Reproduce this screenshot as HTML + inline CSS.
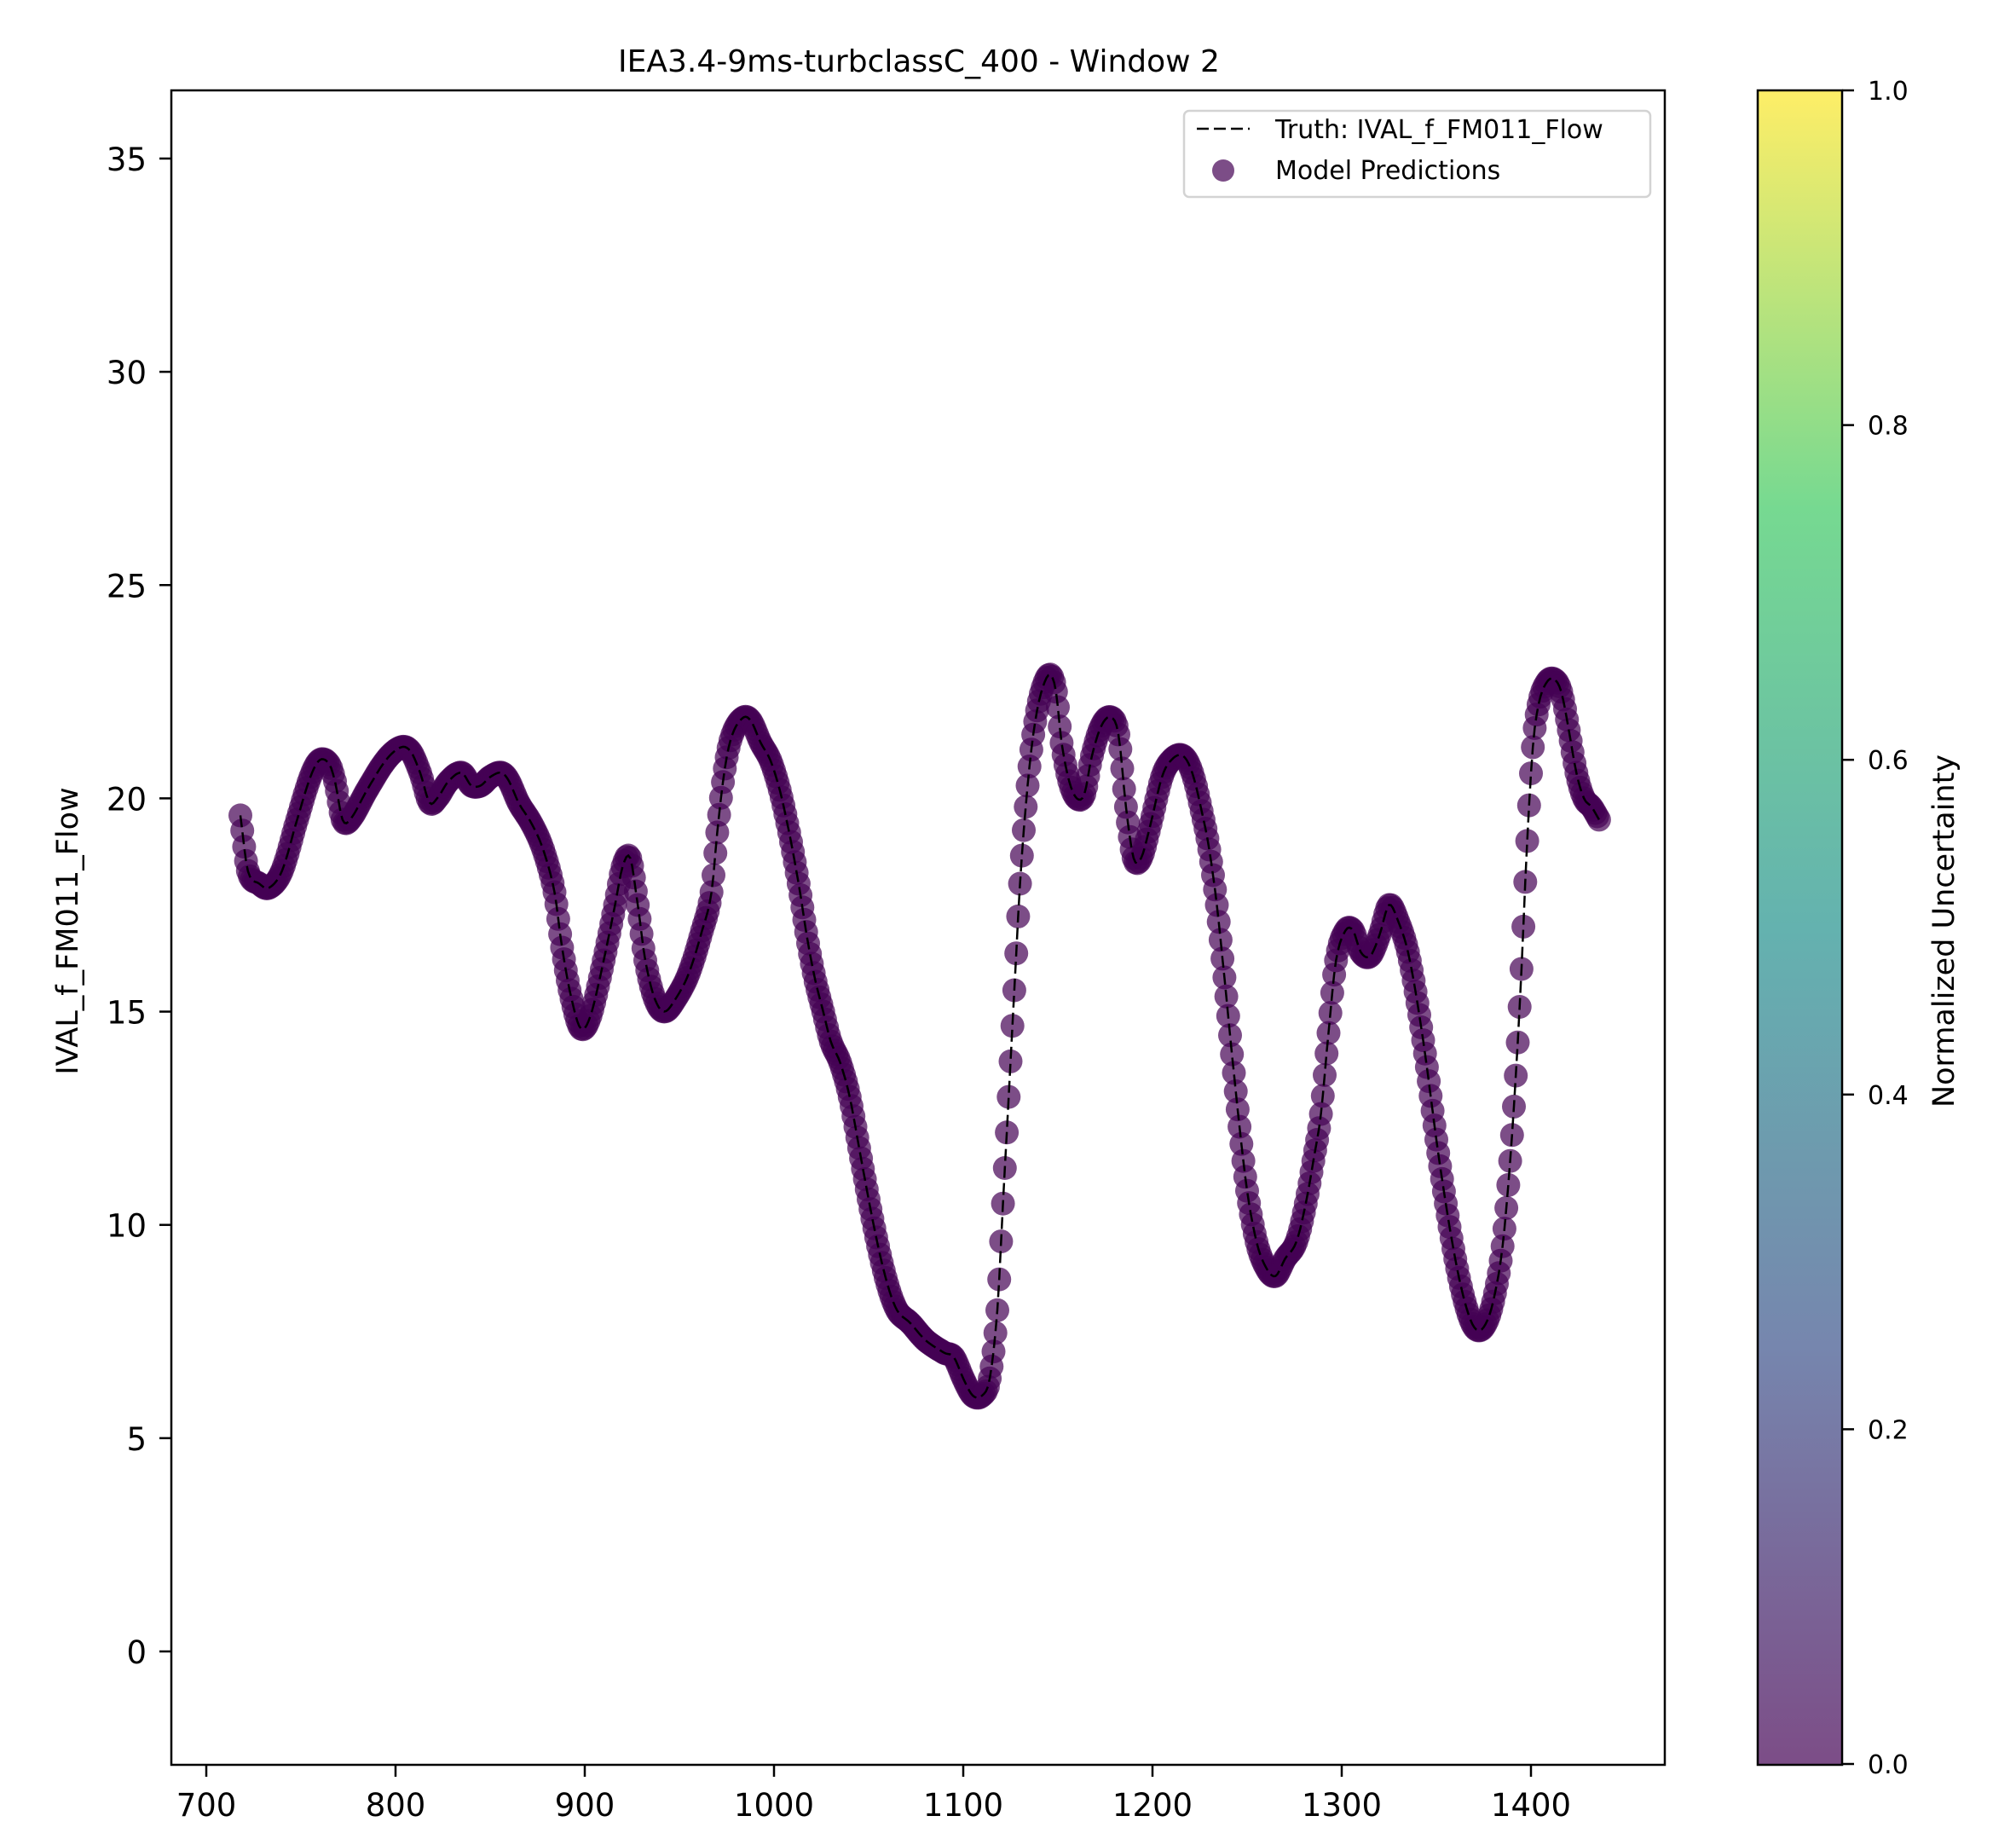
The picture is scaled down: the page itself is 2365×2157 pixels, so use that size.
<!DOCTYPE html>
<html><head><meta charset="utf-8"><style>
html,body{margin:0;padding:0;background:#fff}
svg{display:block}
text{font-family:"DejaVu Sans","Liberation Sans",sans-serif;fill:#000}
</style></head><body>
<svg id="s" width="2365" height="2157" viewBox="0 0 2365 2157" xmlns="http://www.w3.org/2000/svg">
<defs>
<linearGradient id="vir" x1="0" y1="1" x2="0" y2="0">
<stop offset="0" stop-color="#7c4d87"/>
<stop offset="0.25" stop-color="#7686ae"/>
<stop offset="0.5" stop-color="#64b2af"/>
<stop offset="0.75" stop-color="#76d991"/>
<stop offset="1" stop-color="#feee67"/>
</linearGradient>
<clipPath id="ax"><rect x="201" y="106" width="1752" height="1964"/></clipPath>
</defs>
<text x="1078" y="84" font-size="36" text-anchor="middle">IEA3.4-9ms-turbclassC_400 - Window 2</text>
<g id="plot" clip-path="url(#ax)"></g>
<rect x="201" y="106" width="1752" height="1964" fill="none" stroke="#000" stroke-width="2.5"/>
<g id="ticks"></g>
<text transform="translate(91,1092) rotate(-90)" font-size="35" text-anchor="middle">IVAL_f_FM011_Flow</text>
<rect x="1389" y="130" width="547" height="101" rx="6" fill="#fff" fill-opacity="0.8" stroke="#d3d3d3" stroke-width="2.5"/>
<line x1="1404" y1="151" x2="1466" y2="151" stroke="#000" stroke-width="2.5" stroke-dasharray="14,6"/>
<text x="1496" y="162" font-size="30">Truth: IVAL_f_FM011_Flow</text>
<circle cx="1435" cy="200" r="13" fill="#440154" fill-opacity="0.7"/>
<text x="1496" y="210" font-size="30">Model Predictions</text>
<rect x="2062" y="106" width="99" height="1964" fill="url(#vir)" stroke="#000" stroke-width="2.5"/>
<g id="cb"></g>
<text transform="translate(2292,1092) rotate(-90)" font-size="35" text-anchor="middle">Normalized Uncertainty</text>
</svg>
<script>
var NS="http://www.w3.org/2000/svg";
function el(t,a,p){var e=document.createElementNS(NS,t);for(var k in a)e.setAttribute(k,a[k]);p.appendChild(e);return e;}
function X(x){return 242+(x-700)*2.22;}
function Y(y){return 1937-y*50.03;}
var tk=document.getElementById('ticks');
for(var v=700;v<=1400;v+=100){el('line',{x1:X(v),y1:2070,x2:X(v),y2:2084,stroke:'#000','stroke-width':2.5},tk);
var t=el('text',{x:X(v),y:2130,'font-size':37,'text-anchor':'middle'},tk);t.textContent=v;}
for(var v=0;v<=35;v+=5){el('line',{x1:187,y1:Y(v),x2:201,y2:Y(v),stroke:'#000','stroke-width':2.5},tk);
var t=el('text',{x:172,y:Y(v)+14,'font-size':37,'text-anchor':'end'},tk);t.textContent=v;}
var cb=document.getElementById('cb');
for(var i=0;i<=5;i++){var y=2069-i*0.2*1963;el('line',{x1:2161,y1:y,x2:2175,y2:y,stroke:'#000','stroke-width':2.5},cb);
var t=el('text',{x:2191,y:y+11,'font-size':30},cb);t.textContent=(i*0.2).toFixed(1);}
var P=[[718,19.6],[722,18.3],[728,18.0],[733,17.9],[740,18.3],[748,19.5],[755,20.5],[760,20.9],[765,20.8],[768,20.4],[772,19.5],[776,19.5],[785,20.2],[795,20.9],[803,21.2],[808,21.1],[813,20.6],[818,19.9],[822,20.0],[828,20.4],[835,20.6],[840,20.3],[845,20.3],[850,20.5],[856,20.6],[860,20.4],[865,19.9],[872,19.4],[878,18.8],[884,17.8],[888,16.5],[893,15.3],[898,14.6],[903,14.9],[910,16.2],[916,17.5],[920,18.4],[924,18.6],[928,17.5],[932,16.2],[937,15.3],[942,15.0],[948,15.3],[955,15.9],[962,16.9],[967,17.8],[970,19.2],[974,20.7],[978,21.5],[984,21.9],[988,21.8],[993,21.3],[998,20.9],[1003,20.2],[1008,19.2],[1013,18.0],[1018,16.6],[1022,15.7],[1026,15.0],[1030,14.3],[1035,13.8],[1040,13.0],[1045,11.8],[1050,10.6],[1055,9.5],[1060,8.6],[1065,8.0],[1072,7.7],[1080,7.3],[1090,7.0],[1095,6.9],[1100,6.4],[1105,6.0],[1110,6.0],[1114,6.4],[1118,8.0],[1121,10.5],[1124,13.0],[1127,15.5],[1130,18.0],[1134,20.3],[1138,21.8],[1142,22.6],[1146,22.9],[1149,22.5],[1152,21.3],[1156,20.4],[1160,20.0],[1164,20.1],[1168,21.0],[1173,21.7],[1178,21.9],[1182,21.5],[1186,19.8],[1190,18.6],[1194,18.6],[1199,19.4],[1205,20.5],[1210,20.9],[1216,21.0],[1221,20.6],[1226,19.7],[1230,18.8],[1234,17.5],[1238,15.8],[1242,14.0],[1246,12.3],[1250,10.8],[1255,9.6],[1260,9.0],[1265,8.8],[1270,9.2],[1276,9.6],[1281,10.5],[1285,11.5],[1289,12.6],[1293,14.5],[1297,16.2],[1302,16.9],[1306,16.9],[1310,16.4],[1315,16.3],[1320,16.8],[1325,17.5],[1330,17.1],[1335,16.4],[1340,15.2],[1345,13.7],[1350,12.0],[1355,10.5],[1360,9.2],[1365,8.2],[1370,7.6],[1375,7.6],[1380,8.2],[1385,9.5],[1389,11.5],[1392,13.5],[1395,16.0],[1398,19.0],[1401,21.2],[1404,22.2],[1408,22.7],[1412,22.8],[1416,22.5],[1420,21.6],[1424,20.6],[1428,20.0],[1432,19.8],[1436,19.5]];
function interp(x){for(var i=0;i<P.length-1;i++){if(x<=P[i+1][0]){var a=P[i],b=P[i+1],p0=P[Math.max(i-1,0)],p3=P[Math.min(i+2,P.length-1)];
var t=(x-a[0])/(b[0]-a[0]);var m1=(b[1]-p0[1])/(b[0]-p0[0])*(b[0]-a[0]),m2=(p3[1]-a[1])/(p3[0]-a[0])*(b[0]-a[0]);
var t2=t*t,t3=t2*t;return (2*t3-3*t2+1)*a[1]+(t3-2*t2+t)*m1+(-2*t3+3*t2)*b[1]+(t3-t2)*m2;}}return P[P.length-1][1];}
var g=document.getElementById('plot');var pts=[];
for(var x=718;x<=1436;x+=1){var y=interp(x);pts.push([X(x),Y(y)]);}
pts.forEach(function(p){el('circle',{cx:p[0].toFixed(1),cy:p[1].toFixed(1),r:14,fill:'#440154','fill-opacity':0.7},g);});
var dd='M'+pts.map(function(p){return p[0].toFixed(1)+','+p[1].toFixed(1);}).join('L');
el('path',{d:dd,fill:'none',stroke:'#000','stroke-width':2.5,'stroke-dasharray':'14,6'},g);
</script>
</body></html>
